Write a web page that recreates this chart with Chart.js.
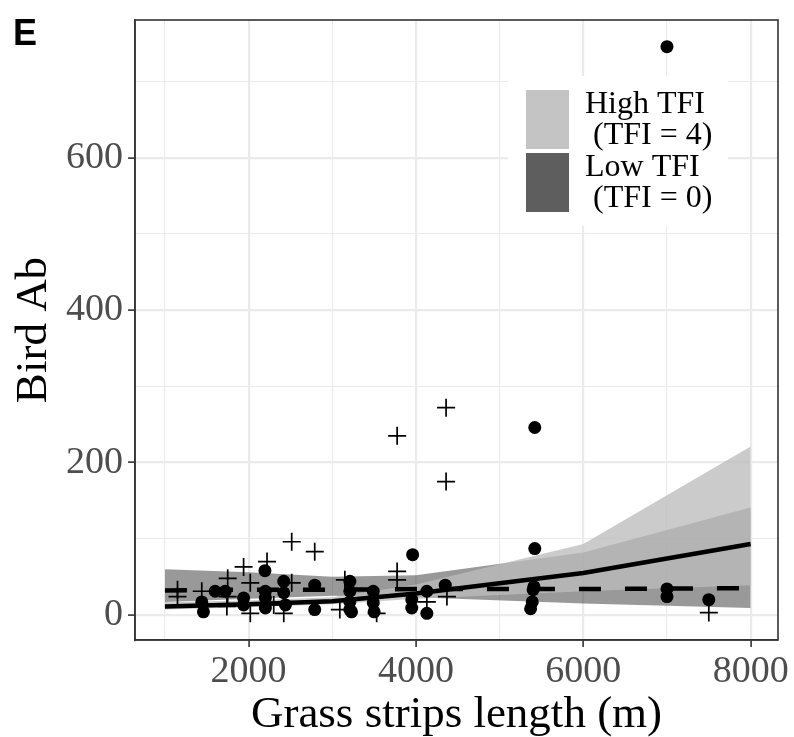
<!DOCTYPE html>
<html>
<head>
<meta charset="utf-8">
<script src="https://cdn.jsdelivr.net/npm/chart.js@4"></script>
<style>
html,body{margin:0;padding:0;background:#fff;}
#wrap{width:794px;height:737px;}
</style>
</head>
<body>
<div id="wrap"><canvas id="c" width="794" height="737"></canvas></div>
<script>
// ---- data ----
const panelLabel = 'E';
const xTitle = 'Grass strips length (m)';
const yTitle = 'Bird Ab';
const seriesNames = ['High TFI', 'Low TFI'];
const seriesSubNames = [' (TFI = 4)', ' (TFI = 0)'];

// model predictions (ribbons and lines)
const xGrid   = [1000, 2000, 3000, 4000, 6000, 8000];
const highFit = [11, 14, 18, 28, 55, 93];
const highLo  = [7, 10, 14, 21, 31, 39];
const highHi  = [17, 19, 23, 40, 93, 221];
const lowFit  = [32, 33, 33, 34, 34, 35];
const lowLo   = [17, 21, 25, 23, 15, 9];
const lowHi   = [60, 56, 50, 52, 82, 141];

// observed points: filled circles
const circleX = [1440,1460,1600,1720,1940,1940,2195,2200,2200,2200,2420,2420,2440,2790,2790,3210,3210,3210,3210,3230,3490,3490,3500,3960,3950,3950,4130,4130,4350,5420,5420,5410,5400,5390,5370,7000,7000,7000,7500];
const circleY = [17,4,31,31,22,13,58,31,22,9,44,29,13,39,7,44,31,17,7,4,31,16,4,79,20,9,31,2,39,246,87,37,33,17,8,746,34,24,20];
// observed points: plus signs
const plusX = [1150,1150,1440,1750,1750,1740,1940,2020,2020,2220,2300,2515,2515,2420,2790,3150,3090,3530,3775,3775,3775,4130,4360,4360,4370,7500];
const plusY = [33,24,31,48,24,11,63,42,2,70,13,96,42,2,83,46,7,2,235,57,46,17,272,175,24,3];

// axis ticks (major labelled, minor = grid only)
const xTicks = [1000, 2000, 3000, 4000, 5000, 6000, 7000, 8000];
const xLabels = ['', '2000', '', '4000', '', '6000', '', '8000'];
const yTicks = [0, 100, 200, 300, 400, 500, 600, 700];
const yLabels = ['0', '', '200', '', '400', '', '600', ''];

// ---- build ----
const pts = (xs, ys) => xs.map((x, i) => ({x: x, y: ys[i]}));

const highFill = 'rgba(189,189,189,0.78)';
const lowFill = 'rgba(51,51,51,0.5)';
const legendHigh = '#c4c4c4';
const legendLow = '#5e5e5e';

const datasets = [
  {type:'line', data: pts(circleX, circleY), showLine:false, pointStyle:'circle', pointRadius:6.5,
   pointBackgroundColor:'#000', pointBorderColor:'#000', pointBorderWidth:0, order:0},
  {type:'line', data: pts(plusX, plusY), showLine:false, pointStyle:'cross', pointRadius:9,
   pointBorderColor:'#000', pointBorderWidth:1.7, order:0},
  {type:'line', data: pts(xGrid, highFit), borderColor:'#000', borderWidth:4.5, pointRadius:0, fill:false, order:1},
  {type:'line', data: pts(xGrid, lowFit), borderColor:'#000', borderWidth:4.5, borderDash:[22,24], pointRadius:0, fill:false, order:1},
  {type:'line', data: pts(xGrid, highHi), borderWidth:0, borderColor:'rgba(0,0,0,0)', pointRadius:0, fill:'+1', backgroundColor:highFill, order:2},
  {type:'line', data: pts(xGrid, highLo), borderWidth:0, borderColor:'rgba(0,0,0,0)', pointRadius:0, fill:false, order:2},
  {type:'line', data: pts(xGrid, lowHi), borderWidth:0, borderColor:'rgba(0,0,0,0)', pointRadius:0, fill:'+1', backgroundColor:lowFill, order:3},
  {type:'line', data: pts(xGrid, lowLo), borderWidth:0, borderColor:'rgba(0,0,0,0)', pointRadius:0, fill:false, order:3}
];

const CA = {left:135, right:778, top:20, bottom:640};

const decor = {
  id:'decor',
  afterDatasetsDraw(chart){
    const ctx = chart.ctx, a = chart.chartArea;
    ctx.save();
    ctx.strokeStyle = '#333333';
    ctx.lineWidth = 1.6;
    ctx.strokeRect(a.left, a.top, a.right - a.left, a.bottom - a.top);
    ctx.restore();
  },
  afterDraw(chart){
    const ctx = chart.ctx, a = chart.chartArea;
    ctx.save();
    ctx.fillStyle = '#fff';
    ctx.fillRect(508, 76, 220, 150);
    ctx.fillStyle = legendHigh;
    ctx.fillRect(526, 90, 43, 59);
    ctx.fillStyle = legendLow;
    ctx.fillRect(526, 153, 43, 59);
    ctx.fillStyle = '#000';
    ctx.font = '32px "Liberation Serif"';
    ctx.textBaseline = 'alphabetic';
    ctx.textAlign = 'left';
    ctx.fillText(seriesNames[0], 585, 113);
    ctx.fillText(seriesSubNames[0], 585, 144);
    ctx.fillText(seriesNames[1], 585, 176);
    ctx.fillText(seriesSubNames[1], 585, 207);
    ctx.font = '45px "Liberation Serif"';
    ctx.textAlign = 'center';
    ctx.fillText(xTitle, (a.left + a.right) / 2, 727);
    ctx.save();
    ctx.translate(46, (a.top + a.bottom) / 2);
    ctx.rotate(-Math.PI / 2);
    ctx.fillText(yTitle, 0, 0);
    ctx.restore();
    ctx.font = 'bold 36px "Liberation Sans"';
    ctx.textAlign = 'left';
    ctx.fillText(panelLabel, 13, 45);
    ctx.restore();
  }
};

const isMajor = (c) => c.tick && c.tick.label !== '';

new Chart(document.getElementById('c'), {
  type:'line',
  data:{datasets: datasets},
  options:{
    responsive:false,
    animation:false,
    devicePixelRatio:1,
    layout:{padding:{left:0, right:794 - CA.right, top:CA.top, bottom:0}},
    plugins:{legend:{display:false}, tooltip:{enabled:false}, filler:{propagate:false}},
    scales:{
      x:{
        type:'linear', min:642, max:8327,
        afterBuildTicks(s){ s.ticks = xTicks.map(v => ({value:v})); },
        afterFit(s){ s.height = 737 - CA.bottom; s.paddingLeft = 0; s.paddingRight = 0; },
        border:{display:true, color:'#333333', width:1.6},
        grid:{
          color:'#ebebeb',
          lineWidth:(c) => (isMajor(c) ? 2.2 : 1.1),
          tickLength:7,
          tickColor:(c) => (isMajor(c) ? '#333333' : 'rgba(0,0,0,0)'),
          tickWidth:1.6
        },
        ticks:{
          autoSkip:false, maxRotation:0, minRotation:0,
          color:'#4d4d4d', font:{family:'"Liberation Serif"', size:38}, padding:2,
          callback:(v, i) => xLabels[xTicks.indexOf(v)] || ''
        }
      },
      y:{
        type:'linear', min:-33, max:781,
        afterBuildTicks(s){ s.ticks = yTicks.map(v => ({value:v})); },
        afterFit(s){ s.width = CA.left; s.paddingTop = 0; s.paddingBottom = 0; },
        border:{display:true, color:'#333333', width:1.6},
        grid:{
          color:'#ebebeb',
          lineWidth:(c) => (isMajor(c) ? 2.2 : 1.1),
          tickLength:7,
          tickColor:(c) => (isMajor(c) ? '#333333' : 'rgba(0,0,0,0)'),
          tickWidth:1.6
        },
        ticks:{
          autoSkip:false,
          color:'#4d4d4d', font:{family:'"Liberation Serif"', size:38}, padding:5,
          callback:(v) => yLabels[yTicks.indexOf(v)] || ''
        }
      }
    }
  },
  plugins:[decor]
});
</script>
</body>
</html>
